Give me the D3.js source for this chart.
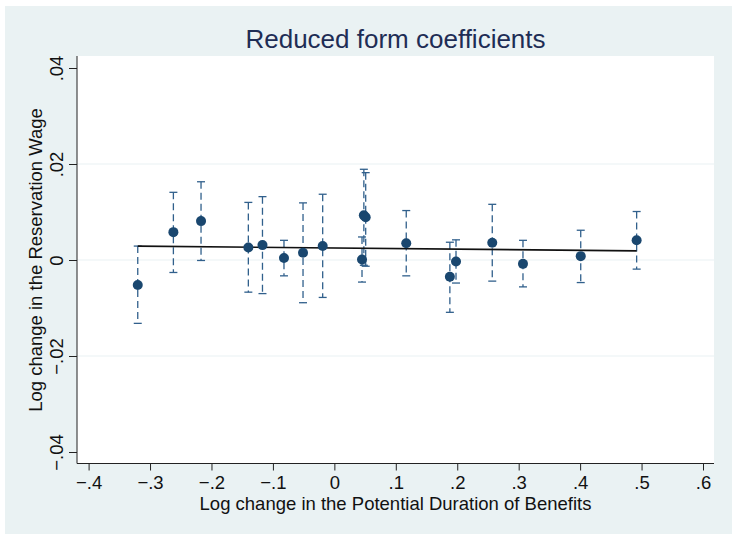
<!DOCTYPE html>
<html>
<head>
<meta charset="utf-8">
<script src="https://cdn.jsdelivr.net/npm/d3@7"></script>
<style>
  body { margin: 0; background: #fff; }
  text { font-family: 'Liberation Sans', Arial, Helvetica, sans-serif; }
</style>
</head>
<body>
<div id="chart"></div>
<script>
// duration change (x), coefficient and 95% CI (y)
const xValues = [-0.320, -0.262, -0.217, -0.140, -0.117, -0.082, -0.051, -0.019, 0.045, 0.048, 0.051, 0.117, 0.188, 0.198, 0.257, 0.307, 0.401, 0.492]
const coefs = [-0.0052, 0.0058, 0.0081, 0.0026, 0.0031, 0.0004, 0.0015, 0.0029, 0.0001, 0.0093, 0.0089, 0.0035, -0.0035, -0.0003, 0.0036, -0.0008, 0.0008, 0.0041]
const ciLow = [-0.0132, -0.0026, -0.0001, -0.0067, -0.0070, -0.0033, -0.0089, -0.0078, -0.0046, -0.0011, -0.0013, -0.0033, -0.0109, -0.0048, -0.0044, -0.0056, -0.0047, -0.0019]
const ciHigh = [0.0029, 0.0141, 0.0163, 0.0120, 0.0132, 0.0041, 0.0119, 0.0137, 0.0048, 0.0189, 0.0182, 0.0103, 0.0037, 0.0042, 0.0116, 0.0041, 0.0062, 0.0101]

// linear fit drawn over the range of the points
const fitX = [-0.320, 0.492]
const fitY = [0.0029, 0.0019]

const xTicks = [-0.4, -0.3, -0.2, -0.1, 0, 0.1, 0.2, 0.3, 0.4, 0.5, 0.6]
const yTicks = [-0.04, -0.02, 0, 0.02, 0.04]
const yGrid = [-0.02, 0, 0.02]

const width = 732
const height = 534
const plot = { left: 77, right: 714, top: 56, bottom: 463.5 }

const fmt = d => (d === 0 ? '0' : d3.format('.2~f')(d).replace('0.', '.'))

const svg = d3
  .select('#chart')
  .append('svg')
  .attr('width', width)
  .attr('height', height)

const xScale = d3.scaleLinear().domain([-0.4, 0.6]).range([88.6, 703])
const yScale = d3.scaleLinear().domain([-0.04, 0.04]).range([452, 68])

// backgrounds
svg
  .append('rect')
  .attr('x', 5)
  .attr('y', 6)
  .attr('width', width - 5)
  .attr('height', height - 6)
  .attr('fill', '#eaf2f3')

svg
  .append('rect')
  .attr('x', plot.left)
  .attr('y', plot.top)
  .attr('width', plot.right - plot.left)
  .attr('height', plot.bottom - plot.top)
  .attr('fill', '#fff')

// grid
svg
  .selectAll('.grid')
  .data(yGrid)
  .enter()
  .append('line')
  .attr('class', 'grid')
  .attr('x1', plot.left)
  .attr('x2', plot.right)
  .attr('y1', d => yScale(d))
  .attr('y2', d => yScale(d))
  .attr('stroke', '#eaf2f3')
  .attr('stroke-width', 1.2)

// axes
const xAxis = svg
  .append('g')
  .attr('transform', `translate(0,${plot.bottom})`)
  .call(
    d3
      .axisBottom(xScale)
      .tickValues(xTicks)
      .tickFormat(fmt)
      .tickSize(7)
      .tickSizeOuter(0)
  )
xAxis.select('.domain').attr('d', `M${plot.left},0H${plot.right}`)

const yAxis = svg
  .append('g')
  .attr('transform', `translate(${plot.left},0)`)
  .call(
    d3
      .axisLeft(yScale)
      .tickValues(yTicks)
      .tickFormat(fmt)
      .tickSize(8)
      .tickSizeOuter(0)
  )
yAxis.select('.domain').attr('d', `M0,${plot.top}V${plot.bottom}`)

svg.selectAll('.domain, .tick line').attr('stroke', '#222').attr('stroke-width', 1)
svg
  .selectAll('.tick text')
  .attr('fill', '#111')
  .style('font-size', '18.5px')

xAxis.selectAll('.tick text').attr('dy', '15px')

yAxis
  .selectAll('.tick text')
  .attr('text-anchor', 'middle')
  .attr('x', 0)
  .attr('dy', 0)
  .attr('transform', 'translate(-14,0) rotate(-90)')

// error bars
const data = xValues.map((x, i) => ({ x, y: coefs[i], lo: ciLow[i], hi: ciHigh[i] }))

svg
  .selectAll('.ci')
  .data(data)
  .enter()
  .append('line')
  .attr('class', 'ci')
  .attr('x1', d => xScale(d.x))
  .attr('x2', d => xScale(d.x))
  .attr('y1', d => yScale(d.hi))
  .attr('y2', d => yScale(d.lo))
  .attr('stroke', '#31608c')
  .attr('stroke-width', 1.3)
  .attr('stroke-dasharray', '7,4')

const caps = svg.append('g')
data.forEach(d => {
  ;[d.lo, d.hi].forEach(v => {
    caps
      .append('line')
      .attr('x1', xScale(d.x) - 4)
      .attr('x2', xScale(d.x) + 4)
      .attr('y1', yScale(v))
      .attr('y2', yScale(v))
      .attr('stroke', '#31608c')
      .attr('stroke-width', 1.3)
  })
})

// fit line
svg
  .append('line')
  .attr('x1', xScale(fitX[0]))
  .attr('x2', xScale(fitX[1]))
  .attr('y1', yScale(fitY[0]))
  .attr('y2', yScale(fitY[1]))
  .attr('stroke', '#111')
  .attr('stroke-width', 1.6)

// points
svg
  .selectAll('.pt')
  .data(data)
  .enter()
  .append('circle')
  .attr('class', 'pt')
  .attr('cx', d => xScale(d.x))
  .attr('cy', d => yScale(d.y))
  .attr('r', 5)
  .attr('fill', '#1a476f')

// titles
svg
  .append('text')
  .text('Reduced form coefficients')
  .attr('x', (plot.left + plot.right) / 2)
  .attr('y', 47.5)
  .attr('text-anchor', 'middle')
  .attr('fill', '#1e2d55')
  .style('font-size', '26px')

svg
  .append('text')
  .text('Log change in the Potential Duration of Benefits')
  .attr('x', (plot.left + plot.right) / 2)
  .attr('y', 510)
  .attr('text-anchor', 'middle')
  .attr('fill', '#111')
  .style('font-size', '18.5px')

svg
  .append('text')
  .text('Log change in the Reservation Wage')
  .attr('transform', `translate(42,${yScale(0)}) rotate(-90)`)
  .attr('text-anchor', 'middle')
  .attr('fill', '#111')
  .style('font-size', '18.5px')
</script>
</body>
</html>
